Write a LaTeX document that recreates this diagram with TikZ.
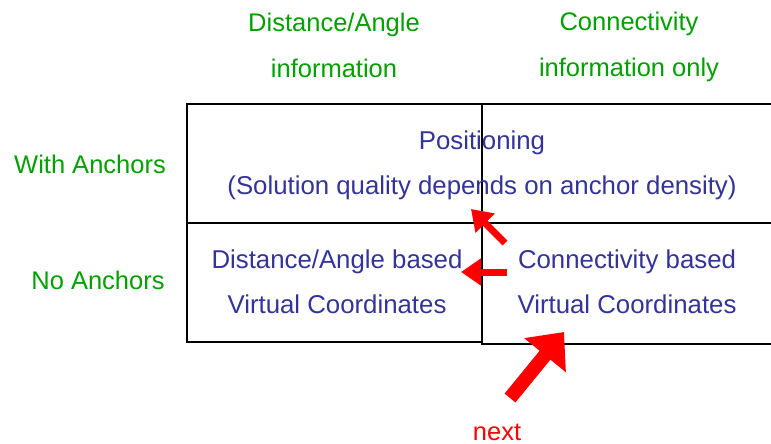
\documentclass[tikz,border=0pt]{standalone}
\usepackage{fontspec}
\setmainfont{Liberation Sans}
\usetikzlibrary{arrows.meta}
\definecolor{hdgreen}{RGB}{0,160,0}
\definecolor{cellblue}{RGB}{51,51,153}

\begin{document}
\begin{tikzpicture}[x = 1pt, y = -1pt, line width = 2.8pt,
    head/.style = {text = hdgreen, align = center, font = \fontsize{25.5}{46}\selectfont},
    cell/.style = {text = cellblue, align = center, font = \fontsize{25.8}{45}\selectfont},
    ptr/.style = {draw = red, line width = 7pt, -{Triangle[length = 20pt, width = 26pt]}},
    bigptr/.style = {draw = red, line width = 14pt, -{Triangle[length = 30pt, width = 52pt]}}]
\useasboundingbox (0,0) rectangle (771,444);
% grid
\draw (771,104) -- (187,104) -- (187,342) -- (482,342);
\draw (771,344) -- (482,344) -- (482,104);
\draw (187,223) -- (771,223);
% headings
\draw (334,45) node[head](h1){Distance/Angle\\information}
    (629,47) node[head](h2){Connectivity\\information only}
    (90,164) node[head](r1){With Anchors}
    (98,280) node[head](r2){No Anchors};
% cells
\draw (482,165) node[cell](c1){Positioning\\(Solution quality depends on anchor density)}
    (337,282) node[cell](c2){Distance/Angle based\\Virtual Coordinates}
    (627,282) node[cell](c3){Connectivity based\\Virtual Coordinates};
\node[text = red, font = \fontsize{25.5}{28}\selectfont] (nx) at (497,432) {next};
% arrow ends
\coordinate (p1) at (505,243);
\coordinate (q1) at (471,209);
\coordinate (p2) at (507,272);
\coordinate (q2) at (461,272);
\coordinate (p3) at (510,398);
\coordinate (q3) at (564,332);
\draw[ptr] (p1) -- (q1);
\draw[ptr] (p2) -- (q2);
\draw[bigptr] (p3) -- (q3);
\end{tikzpicture}
\end{document}
